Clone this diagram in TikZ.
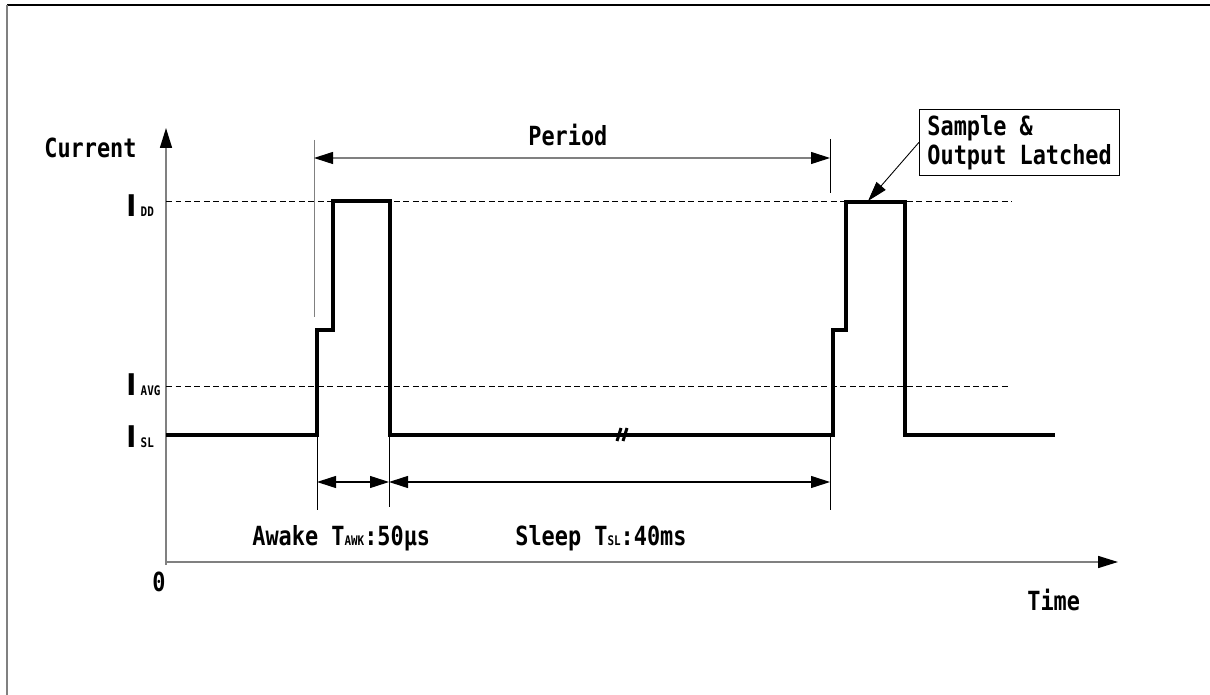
\documentclass[tikz,border=0pt]{standalone}
\usepackage{fontspec}
\newfontfamily\dfont{DejaVu Sans Mono}[FakeStretch=0.83]
\newfontfamily\ifont{DejaVu Sans}[FakeStretch=0.9]
\usepackage{xcolor}
\usepackage{tikz}
\usetikzlibrary{arrows.meta}

\definecolor{axgray}{gray}{0.5}
\newcommand{\lvsub}[1]{{\fontsize{7.5}{7.5}\selectfont #1}}
\newcommand{\lvI}{{\fontsize{17}{17}\selectfont\ifont\bfseries I}}

\begin{document}
\begin{tikzpicture}[
  x=0.02cm, y=-0.02cm,
  txt/.style={font=\fontsize{15}{16.5}\selectfont\dfont\bfseries, inner sep=0pt, anchor=base west},
  wave/.style={line width=0.08cm, line join=miter},
  lvl/.style={dash pattern=on 0.12cm off 0.07cm, line width=0.5pt},
  axis/.style={draw=axgray, line width=0.9pt, -{Triangle[length=0.4cm, width=0.24cm, black]}},
  dim/.style={line width=0.6pt, {Triangle[length=0.38cm, width=0.24cm, black]}-{Triangle[length=0.38cm, width=0.24cm, black]}},
  tick/.style={line width=0.5pt}
]
\useasboundingbox (0,0) rectangle (1210,695);

% frame
\draw[line width=1.2pt] (7,5) -- (1210,5);
\draw[axgray, line width=1.5pt] (7,5) -- (7,695);

% axes
\coordinate (org) at (166,565);
\coordinate (ytip) at (166,128);
\coordinate (xtip) at (1118,562);
\draw[axis] (org) -- (ytip);
\draw[axis] (166,562) -- (xtip);
\node[txt] (cur) at (44,158) {Current};
\node[txt] (zero) at (152,591) {0};
\node[txt] (time) at (1027,610) {Time};

% levels
\draw[lvl] (166,201) -- (1012,201);
\draw[lvl] (166,386) -- (1010,386);
\node[txt] (idd) at (126,217) {\lvI\,\lvsub{DD}};
\node[txt] (iavg) at (126,396) {\lvI\,\lvsub{AVG}};
\node[txt] (isl) at (126,448) {\lvI\,\lvsub{SL}};

% current waveform
\draw[wave] (166,435) -- (317,435) -- (317,330) -- (333,330) -- (333,201)
  -- (390,201) -- (390,435) -- (833,435) -- (833,330) -- (846,330)
  -- (846,202) -- (905,202) -- (905,435) -- (1055,435);
\draw[line width=0.06cm] (617,441) -- (621,428);
\draw[line width=0.06cm] (623,441) -- (627,428);

% period
\draw[tick, axgray] (314,140) -- (314,317);
\draw[tick] (830,139) -- (830,193);
\coordinate (perL) at (314,158);
\coordinate (perR) at (830,158);
\draw[dim, draw=axgray] (perL) -- (perR);
\node[txt] (per) at (528,146) {Period};

% awake / sleep
\draw[tick] (317,435) -- (317,510);
\draw[tick] (389,435) -- (389,507);
\draw[tick] (830,435) -- (830,510);
\coordinate (awL) at (317,482);
\coordinate (awR) at (389,482);
\coordinate (slR) at (830,482);
\draw[dim] (awL) -- (awR);
\draw[dim] (awR) -- (slR);
\node[txt] (awk) at (252,545) {Awake T\lvsub{AWK}:50μs};
\node[txt] (slp) at (515,545) {Sleep T\lvsub{SL}:40ms};

% sample callout
\node[txt, draw, line width=0.5pt, anchor=south west, align=left,
  inner xsep=0.16cm, inner ysep=0.12cm] (box) at (919,176) {Sample \&\\Output Latched};
\coordinate (smp) at (868,201);
\draw[line width=0.5pt, -{Triangle[length=0.4cm, width=0.24cm]}] (box.west) -- (smp);
\end{tikzpicture}
\end{document}
